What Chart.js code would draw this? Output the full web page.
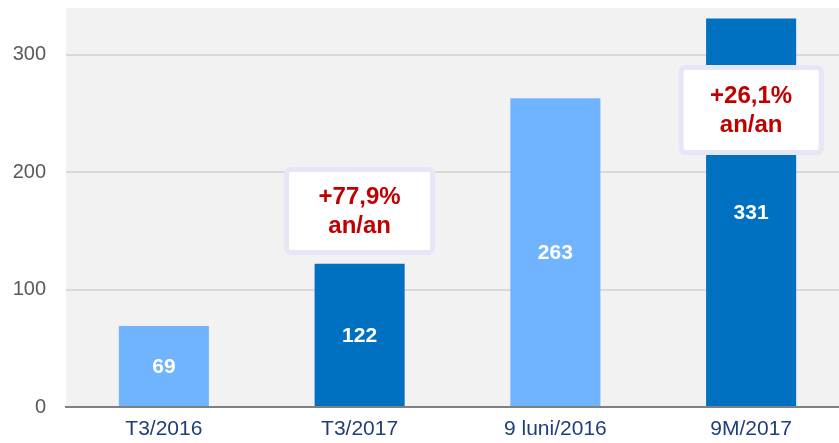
<!DOCTYPE html>
<html>
<head>
<meta charset="utf-8">
<script src="https://cdn.jsdelivr.net/npm/chart.js@4/dist/chart.umd.min.js"></script>
<style>
  html, body { margin: 0; padding: 0; background: #fff; overflow: hidden; }
  canvas { display: block; }
</style>
</head>
<body>
<canvas id="chart" width="849" height="443"></canvas>
<script>
const categories = ['T3/2016', 'T3/2017', '9 luni/2016', '9M/2017'];
const values = [69, 122, 263, 331];
const barColors = ['#70b4ff', '#0070c0', '#70b4ff', '#0070c0'];
const yTicks = [0, 100, 200, 300];

// growth callouts: category index, value at box centre, text lines
const callouts = [
    { index: 1, y: 167, lines: ['+77,9%', 'an/an'], w: 151, h: 88 },
    { index: 3, y: 253, lines: ['+26,1%', 'an/an'], w: 145, h: 90 }
];

const FONT = '"Liberation Sans", Arial, sans-serif';

const plotBackground = {
    id: 'plotBackground',
    beforeDraw(chart) {
        const { ctx, chartArea: a } = chart;
        ctx.save();
        ctx.fillStyle = '#f2f2f2';
        ctx.fillRect(a.left, a.top, a.right - a.left, a.bottom - a.top);
        ctx.restore();
    }
};

function roundRect(ctx, x, y, w, h, r) {
    ctx.beginPath();
    ctx.moveTo(x + r, y);
    ctx.arcTo(x + w, y, x + w, y + h, r);
    ctx.arcTo(x + w, y + h, x, y + h, r);
    ctx.arcTo(x, y + h, x, y, r);
    ctx.arcTo(x, y, x + w, y, r);
    ctx.closePath();
}

const labelsAndCallouts = {
    id: 'labelsAndCallouts',
    afterDatasetsDraw(chart) {
        const ctx = chart.ctx;
        const meta = chart.getDatasetMeta(0);
        const xs = chart.scales.x, ys = chart.scales.y;
        ctx.save();
        ctx.font = 'bold 21px ' + FONT;
        ctx.fillStyle = '#ffffff';
        ctx.textAlign = 'center';
        ctx.textBaseline = 'middle';
        meta.data.forEach((bar, i) => {
            ctx.fillText(String(values[i]), bar.x, (bar.y + bar.base) / 2 + 1);
        });

        callouts.forEach(c => {
            const cx = xs.getPixelForValue(c.index);
            const cy = ys.getPixelForValue(c.y);
            const x = cx - c.w / 2, y = cy - c.h / 2;
            roundRect(ctx, x + 2.5, y + 2.5, c.w - 5, c.h - 5, 4);
            ctx.fillStyle = '#ffffff';
            ctx.fill();
            ctx.lineWidth = 5;
            ctx.strokeStyle = '#e6e6f6';
            ctx.stroke();
            ctx.fillStyle = '#c00000';
            ctx.font = 'bold 24px ' + FONT;
            ctx.fillText(c.lines[0], cx, cy - 14);
            ctx.fillText(c.lines[1], cx, cy + 15);
        });
        ctx.restore();
    }
};

new Chart(document.getElementById('chart'), {
    type: 'bar',
    data: {
        labels: categories,
        datasets: [{
            data: values,
            backgroundColor: barColors,
            barPercentage: 0.46,
            categoryPercentage: 1
        }]
    },
    options: {
        responsive: false,
        animation: false,
        layout: { padding: { top: 8, right: 0, bottom: 0, left: 0 } },
        plugins: {
            legend: { display: false },
            tooltip: { enabled: false }
        },
        scales: {
            x: {
                grid: { display: false, drawTicks: false },
                border: { display: true, color: '#808080', width: 2 },
                ticks: {
                    color: '#1f3f78',
                    padding: 10,
                    font: { family: FONT, size: 21 }
                },
                afterFit(scale) {
                    scale.height = 36;
                    scale.paddingLeft = 0;
                    scale.paddingRight = 0;
                }
            },
            y: {
                min: 0,
                max: 340,
                afterBuildTicks(scale) { scale.ticks = yTicks.map(v => ({ value: v })); },
                grid: { color: '#d9d9d9', lineWidth: 2, drawTicks: false },
                border: { display: false },
                ticks: {
                    color: '#595959',
                    padding: 20,
                    font: { family: FONT, size: 20 }
                },
                afterFit(scale) {
                    scale.width = 66;
                    scale.paddingTop = 0;
                    scale.paddingBottom = 0;
                }
            }
        }
    },
    plugins: [plotBackground, labelsAndCallouts]
});
</script>
</body>
</html>
